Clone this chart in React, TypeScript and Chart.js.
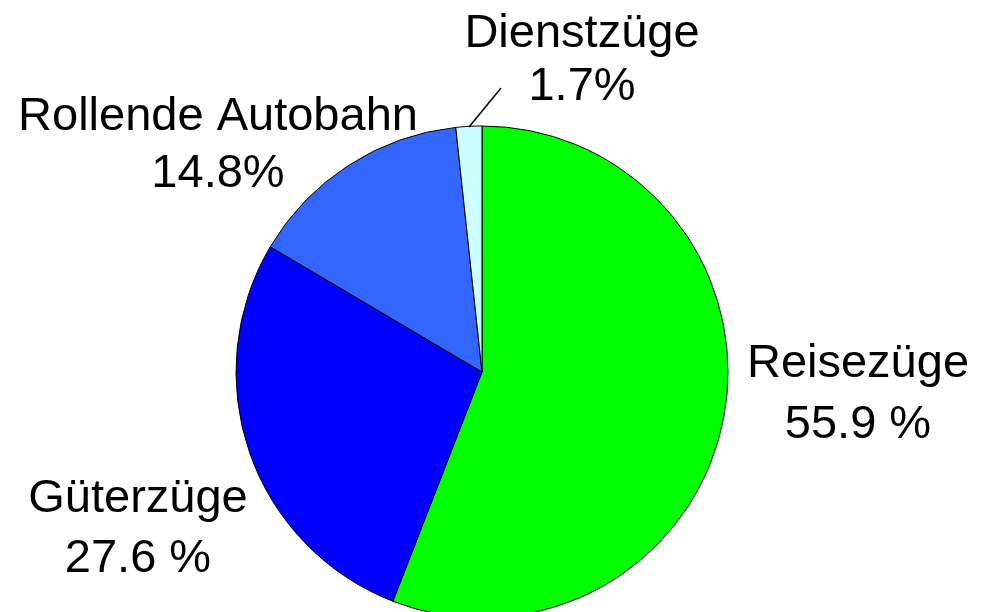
import React, { useEffect, useRef } from "react";
import { Chart, registerables } from "chart.js";

Chart.register(...registerables);

const categories = ["Reisezüge", "Güterzüge", "Rollende Autobahn", "Dienstzüge"];
const shares = [55.9, 27.6, 14.8, 1.7];
const percentSuffix = [" %", " %", "%", "%"];
const sliceColors = ["#00FF00", "#0000FF", "#3366FF", "#CCFFFF"];

// label anchor offsets relative to pie centre: [dx, dyLine1, dyLine2]
const labelOffsets: [number, number, number][] = [
  [376, 5, 66],
  [-344, 140, 200],
  [-264, -242, -185],
  [100, -325, -272],
];

const labelPlugin = {
  id: "pieLabels",
  afterDraw(chart: any) {
    const meta = chart.getDatasetMeta(0);
    const arc = meta.data[0];
    if (!arc) return;
    const cx = arc.x;
    const cy = arc.y;
    const ctx = chart.ctx;
    ctx.save();
    ctx.fillStyle = "#000";
    ctx.font = "47px 'Liberation Sans', Arial, sans-serif";
    ctx.textAlign = "center";
    ctx.textBaseline = "alphabetic";
    categories.forEach((name, i) => {
      const [dx, d1, d2] = labelOffsets[i];
      ctx.fillText(name, cx + dx, cy + d1);
      ctx.fillText(shares[i].toFixed(1) + percentSuffix[i], cx + dx, cy + d2);
    });
    // leader line for the small slice
    ctx.strokeStyle = "#000";
    ctx.lineWidth = 1.5;
    ctx.beginPath();
    ctx.moveTo(cx - 13, cy - 245);
    ctx.lineTo(cx + 19, cy - 284);
    ctx.stroke();
    ctx.restore();
  },
};

export default function App() {
  const ref = useRef<HTMLCanvasElement>(null);
  useEffect(() => {
    document.body.style.margin = "0";
    const chart = new Chart(ref.current!, {
      type: "pie",
      data: {
        labels: categories,
        datasets: [
          {
            data: shares,
            backgroundColor: sliceColors,
            borderColor: "#000",
            borderWidth: 1,
            clip: false,
          } as any,
        ],
      },
      options: {
        responsive: false,
        animation: false,
        radius: 246,
        layout: { padding: { left: 0, right: 30, top: 132, bottom: 0 } },
        plugins: { legend: { display: false }, tooltip: { enabled: false } },
      } as any,
      plugins: [labelPlugin],
    });
    return () => chart.destroy();
  }, []);
  return (
    <div style={{ position: "absolute", left: 0, top: 0, width: 994, height: 612, overflow: "hidden", background: "#fff" }}>
      <canvas ref={ref} width={994} height={612} style={{ display: "block" }} />
    </div>
  );
}
